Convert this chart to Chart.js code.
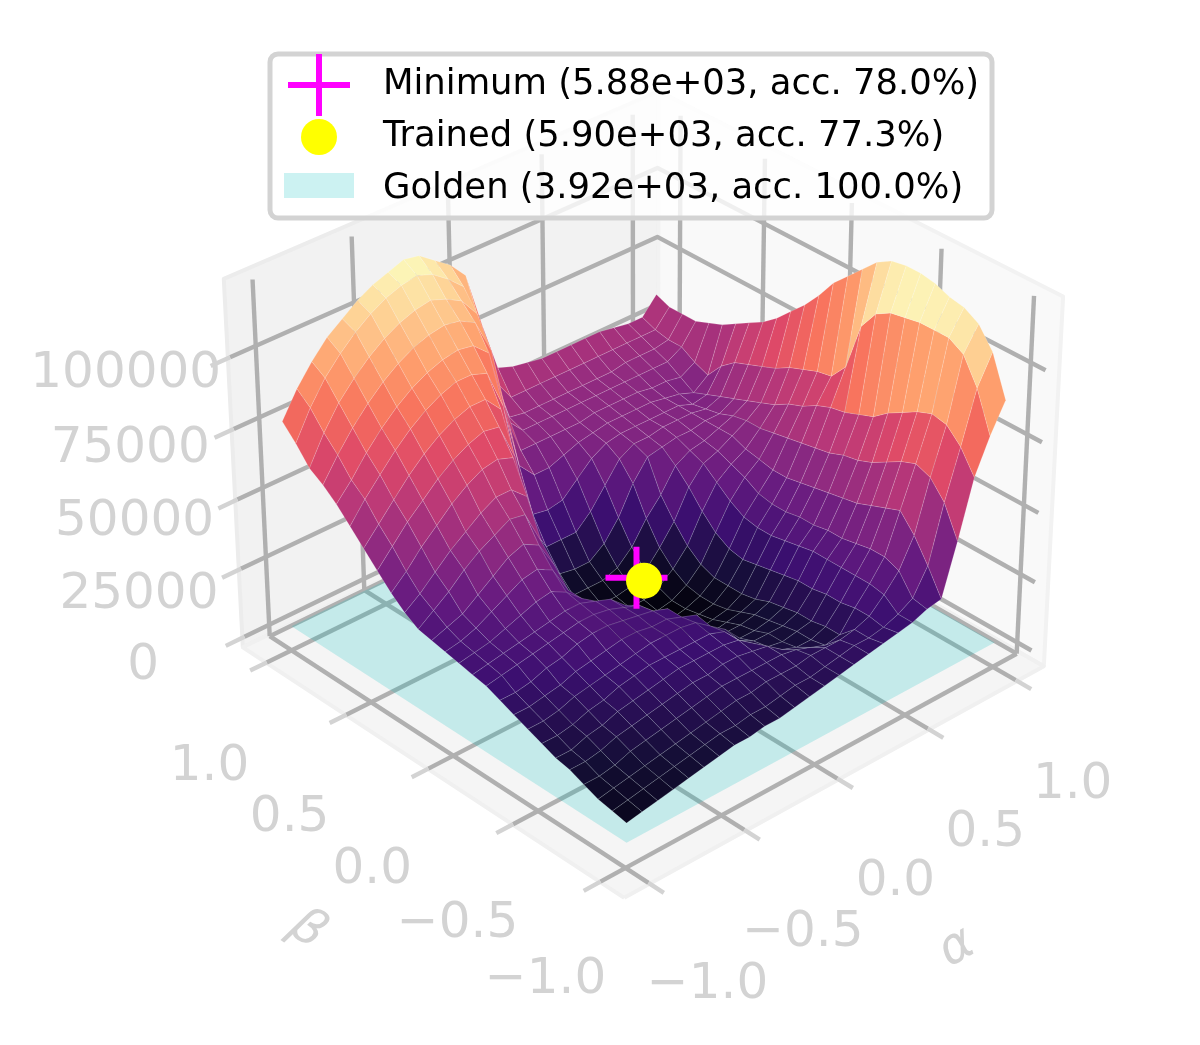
<!DOCTYPE html>
<html><head><meta charset="utf-8">
<style>html,body{margin:0;padding:0;background:#fff}canvas{display:block}</style>
<script src="https://cdn.jsdelivr.net/npm/chart.js@4"></script></head>
<body><canvas id="c" width="1200" height="1045"></canvas>
<script>
const alphaGrid=[-0.94,-0.865,-0.79,-0.714,-0.639,-0.564,-0.489,-0.414,-0.338,-0.263,-0.188,-0.113,-0.038,0.038,0.113,0.188,0.263,0.338,0.414,0.489,0.564,0.639,0.714,0.79,0.865,0.94];
const betaGrid=[-0.94,-0.865,-0.79,-0.714,-0.639,-0.564,-0.489,-0.414,-0.338,-0.263,-0.188,-0.113,-0.038,0.038,0.113,0.188,0.263,0.338,0.414,0.489,0.564,0.639,0.714,0.79,0.865,0.94];
// loss in thousands; one row per beta value, one entry per alpha value
const row00=[11,12,13,14,15,16,17,18,18,19,19,20,21,22,23,24,25,26,27,28,30,31,49,69,81,91];
const row01=[12,13,14,15,16,17,18,19,19,20,20,21,22,22,23,24,25,25,26,28,31,40,60,77,95,105];
const row02=[13,14,15,16,17,18,19,20,21,22,22,23,23,23,24,24,24,25,27,32,38,48,66,82,104,112];
const row03=[15,15,16,18,19,20,21,22,23,24,24,24,24,24,23,21,19,20,27,33,40,54,68,83,107,115];
const row04=[17,17,18,20,21,22,23,24,25,25,26,26,25,24,20,18,18,20,26,33,40,52,66,81,107,116];
const row05=[18,18,20,21,23,24,25,26,27,27,27,27,26,22,18,17,18,19,26,33,39,50,63,78,107,118];
const row06=[20,20,21,23,24,26,27,28,28,28,28,28,26,20,17,17,17,19,25,33,38,48,60,75,106,119];
const row07=[22,22,23,25,26,27,28,29,30,30,30,29,25,21,15,15,16,18,25,33,38,47,58,71,105,119];
const row08=[24,24,25,26,28,29,30,31,31,30,30,28,26,18,14,14,15,17,24,32,37,46,57,69,102,118];
const row09=[26,26,27,29,30,32,33,33,32,31,30,28,20,12,11,12,13,15,23,31,37,45,55,67,95,115];
const row10=[28,29,30,31,32,33,34,34,33,31,29,24,11,10,9,10,11,14,22,30,36,44,54,66,78,110];
const row11=[29,30,31,32,33,34,35,35,33,31,26,11,9,8,8,9,10,14,21,30,36,43,53,64,72,105];
const row12=[30,31,32,34,36,38,39,36,31,18,10,8,7,7,7,8,10,14,22,31,37,43,52,61,71,100];
const row13=[31,32,34,37,40,43,44,41,31,16,10,8,7,7,7,8,11,16,25,34,40,44,51,59,69,93];
const row14=[32,34,36,40,44,48,50,47,37,18,10,8,8,8,8,10,14,20,30,38,42,45,50,56,67,87];
const row15=[33,37,41,46,50,53,56,55,43,20,12,10,9,9,10,13,19,26,36,42,44,47,50,54,64,82];
const row16=[36,40,45,50,54,58,61,61,56,28,16,12,12,12,14,19,27,33,41,44,45,47,49,52,62,77];
const row17=[40,45,51,56,61,65,68,69,67,44,24,17,16,16,20,27,37,44,45,46,46,47,47,50,60,73];
const row18=[45,51,57,62,67,71,74,76,75,62,34,24,24,24,29,36,43,46,46,47,47,47,46,48,58,70];
const row19=[50,56,62,68,73,77,80,82,82,76,52,33,32,33,38,43,46,47,47,47,47,47,45,46,54,67];
const row20=[55,62,68,74,79,83,86,88,88,86,72,48,42,42,44,46,47,48,48,48,48,47,46,44,48,64];
const row21=[60,66,73,79,84,88,91,93,94,93,88,66,48,48,48,48,48,49,49,49,49,48,48,47,50,62];
const row22=[64,72,79,85,90,94,97,99,100,99,96,84,56,50,50,50,50,50,50,50,50,50,50,50,53,60];
const row23=[67,77,85,91,96,100,103,105,106,104,101,94,70,52,51,51,51,51,51,51,51,52,52,52,53,60];
const row24=[73,83,91,97,102,106,109,111,112,110,106,101,86,62,54,54,54,54,54,54,54,54,54,54,54,60];
const row25=[78,87,94,100,104,108,111,113,115,114,110,106,100,80,62,60,59,58,58,58,58,58,57,56,56,62];
const lossRows=[row00,row01,row02,row03,row04,row05,row06,row07,row08,row09,row10,row11,row12,row13,row14,row15,row16,row17,row18,row19,row20,row21,row22,row23,row24,row25];

const alphaTicks=[-1,-0.5,0,0.5,1];
const betaTicks=[-1,-0.5,0,0.5,1];
const zTicks=[0,25,50,75,100];
const alphaTickLabels=['\u22121.0','\u22120.5','0.0','0.5','1.0'];
const betaTickLabels=['\u22121.0','\u22120.5','0.0','0.5','1.0'];
const zTickLabels=['0','25000','50000','75000','100000'];
const minimumPoint=[0.223,0.275,5.88];
const trainedPoint=[0.23,0.24,5.90];
const goldenLoss=3.92;
const legendTexts=['Minimum (5.88e+03, acc. 78.0%)','Trained (5.90e+03, acc. 77.3%)','Golden (3.92e+03, acc. 100.0%)'];

const ELEV=32.5*Math.PI/180, AZIM=227.4*Math.PI/180, DIST=10, SCALE=5410, CX=645, CY=473;
const P=1.074, ZLO=-4.4, ZHI=127, SIDE=0.5714, ZH=0.87;
const E=[Math.cos(ELEV)*Math.cos(AZIM),Math.cos(ELEV)*Math.sin(AZIM),Math.sin(ELEV)];
const R=[-Math.sin(AZIM),Math.cos(AZIM),0];
const U=[-Math.sin(ELEV)*Math.cos(AZIM),-Math.sin(ELEV)*Math.sin(AZIM),Math.cos(ELEV)];
function world(a,b,z){return [a/P*SIDE,b/P*SIDE,(z-(ZLO+ZHI)/2)/(ZHI-ZLO)*ZH];}
function dot(p,q){return p[0]*q[0]+p[1]*q[1]+p[2]*q[2];}
function project(a,b,z){const w=world(a,b,z),d=DIST-dot(w,E);return {x:CX+SCALE*dot(w,R)/d,y:CY-SCALE*dot(w,U)/d,d};}
// where a tick value sits inside the drawn box
function tickPos(t){return 0.935*t-0.065;}
const zPos=z=>z+4.2;

const magmaStops=['#000004','#140e36','#3b0f70','#641a80','#8c2981','#b73779','#de4968','#f7705c','#fe9f6d','#fecf92','#fcfdbf'];
function hex(c){return [1,3,5].map(i=>parseInt(c.substr(i,2),16));}
function magma(t){t=Math.max(0,Math.min(1,t))*10;const i=Math.min(9,Math.floor(t)),f=t-i,a=hex(magmaStops[i]),b=hex(magmaStops[i+1]);
  return 'rgb('+a.map((v,k)=>Math.round(v+(b[k]-v)*f)).join(',')+')';}

const layers=[];
function stroke(pts,color,w){layers.push({type:'line',data:pts.map(p=>{const q=project(...p);return {x:q.x,y:q.y};}),borderColor:color,borderWidth:w,pointRadius:0,fill:false,tension:0});}
function poly(pts,color,edge,w){layers.push({type:'line',data:pts.concat([pts[0]]).map(p=>{const q=project(...p);return {x:q.x,y:q.y};}),backgroundColor:color,borderColor:edge||color,borderWidth:w||0,pointRadius:0,fill:'shape',tension:0});}

// panes
poly([[-P,P,ZLO],[P,P,ZLO],[P,P,ZHI],[-P,P,ZHI]],'#f2f2f2','#ececec',4);
poly([[P,-P,ZLO],[P,P,ZLO],[P,P,ZHI],[P,-P,ZHI]],'#f9f9f9','#f2f2f2',4);
poly([[-P,-P,ZLO],[P,-P,ZLO],[P,P,ZLO],[-P,P,ZLO]],'#f5f5f5','#f0f0f0',4);
// grid and ticks
const G='#b0b0b0',L='#d3d3d3',GW=4.4;
alphaTicks.forEach(t=>{const a=tickPos(t);stroke([[a,1,0],[a,-1.12,0]],G,GW);stroke([[a,-1.12,0],[a,-1.2,0]],L,GW);stroke([[a,1,0],[a,1,ZHI]],G,GW);});
betaTicks.forEach(t=>{const b=tickPos(t);stroke([[1,b,0],[-1.12,b,0]],G,GW);stroke([[-1.12,b,0],[-1.2,b,0]],L,GW);stroke([[1,b,0],[1,b,ZHI]],G,GW);});
zTicks.forEach(t=>{const z=zPos(t);stroke([[-1.12,1,z],[1,1,z],[1,-P,z]],G,GW);stroke([[-1.12,1,z],[-1.21,1,z]],L,GW);});
stroke([[-1,1,0],[1,1,0],[1,-1,0]],G,GW);
// golden plane
const ga=alphaGrid[0],gb=alphaGrid[alphaGrid.length-1];
poly([[ga,ga,goldenLoss],[gb,ga,goldenLoss],[gb,gb,goldenLoss],[ga,gb,goldenLoss]],'rgba(0,191,191,0.2)');
// surface
const vmin=5.88,vmax=115,quads=[];
for(let j=0;j<betaGrid.length-1;j++)for(let i=0;i<alphaGrid.length-1;i++){
  const c=[[i,j],[i+1,j],[i+1,j+1],[i,j+1]].map(([u,v])=>[alphaGrid[u],betaGrid[v],lossRows[v][u]]);
  const mean=c.reduce((s,p)=>s+p[2],0)/4;
  const depth=c.reduce((s,p)=>s+project(...p).d,0)/4;
  quads.push({c,mean,depth});
}
quads.sort((a,b)=>b.depth-a.depth);
quads.forEach(q=>poly(q.c,magma((q.mean-vmin)/(vmax-vmin)),'rgba(255,255,255,0.15)',1));
// markers
const m=project(...minimumPoint),t=project(...trainedPoint);
layers.push({type:'line',showLine:false,data:[{x:m.x,y:m.y}],pointStyle:'cross',pointRadius:31,pointBorderColor:'#ff00ff',pointBorderWidth:6,fill:false});
layers.push({type:'line',showLine:false,data:[{x:t.x,y:t.y}],pointStyle:'circle',pointRadius:18,pointBackgroundColor:'#ffff00',pointBorderColor:'#ffff00',pointBorderWidth:0,fill:false});

const textPlugin={id:'axisText',afterDraw(chart){
  const ctx=chart.ctx,sx=chart.scales.x,sy=chart.scales.y;
  const at=(a,b,z)=>{const q=project(a,b,z);return {x:sx.getPixelForValue(q.x),y:sy.getPixelForValue(q.y)};};
  ctx.save();ctx.fillStyle='#d3d3d3';ctx.textAlign='center';ctx.textBaseline='middle';
  ctx.font='50px "DejaVu Sans"';
  alphaTicks.forEach((a,k)=>{const q=at(tickPos(a),-1,0);ctx.fillText(alphaTickLabels[k],q.x+81-a,q.y+117.5+0.5*a);});
  betaTicks.forEach((b,k)=>{const q=at(-1,tickPos(b),0);ctx.fillText(betaTickLabels[k],q.x-81-b,q.y+114.5+2.5*b);});
  zTicks.forEach((z,k)=>{const q=at(-1,1,zPos(z));ctx.fillText(zTickLabels[k],q.x-126-z*0.04,q.y+41-z*0.13);});
  ctx.font='italic 50px "DejaVu Sans"';
  ctx.save();ctx.translate(957,948);ctx.rotate(-30*Math.PI/180);ctx.fillText('\u03b1',0,0);ctx.restore();
  ctx.save();ctx.translate(307,930);ctx.rotate(35*Math.PI/180);ctx.fillText('\u03b2',0,0);ctx.restore();
  // legend
  ctx.beginPath();ctx.roundRect(270,54,722,164,8);ctx.fillStyle='rgba(255,255,255,0.8)';ctx.fill();ctx.lineWidth=5;ctx.strokeStyle='#d3d3d3';ctx.stroke();
  ctx.strokeStyle='#ff00ff';ctx.lineWidth=6;ctx.beginPath();ctx.moveTo(288,85);ctx.lineTo(350,85);ctx.moveTo(319,54);ctx.lineTo(319,116);ctx.stroke();
  ctx.fillStyle='#ffff00';ctx.beginPath();ctx.arc(319,137,18,0,7);ctx.fill();
  ctx.fillStyle='#ccf2f2';ctx.fillRect(284,173,70,25);
  ctx.fillStyle='#000';ctx.textAlign='left';ctx.font='35.4px "DejaVu Sans"';
  legendTexts.forEach((s,k)=>ctx.fillText(s,383,85+k*52));
  ctx.restore();
}};
new Chart(document.getElementById('c'),{
  data:{datasets:layers.reverse()},
  plugins:[textPlugin],
  options:{responsive:false,animation:false,devicePixelRatio:1,events:[],layout:{padding:0},
    plugins:{legend:{display:false},tooltip:{enabled:false},title:{display:false}},
    elements:{line:{borderJoinStyle:'round',borderCapStyle:'butt'}},
    scales:{x:{type:'linear',display:false,min:0,max:1200},y:{type:'linear',display:false,min:0,max:1045,reverse:true}}}
});
</script></body></html>
